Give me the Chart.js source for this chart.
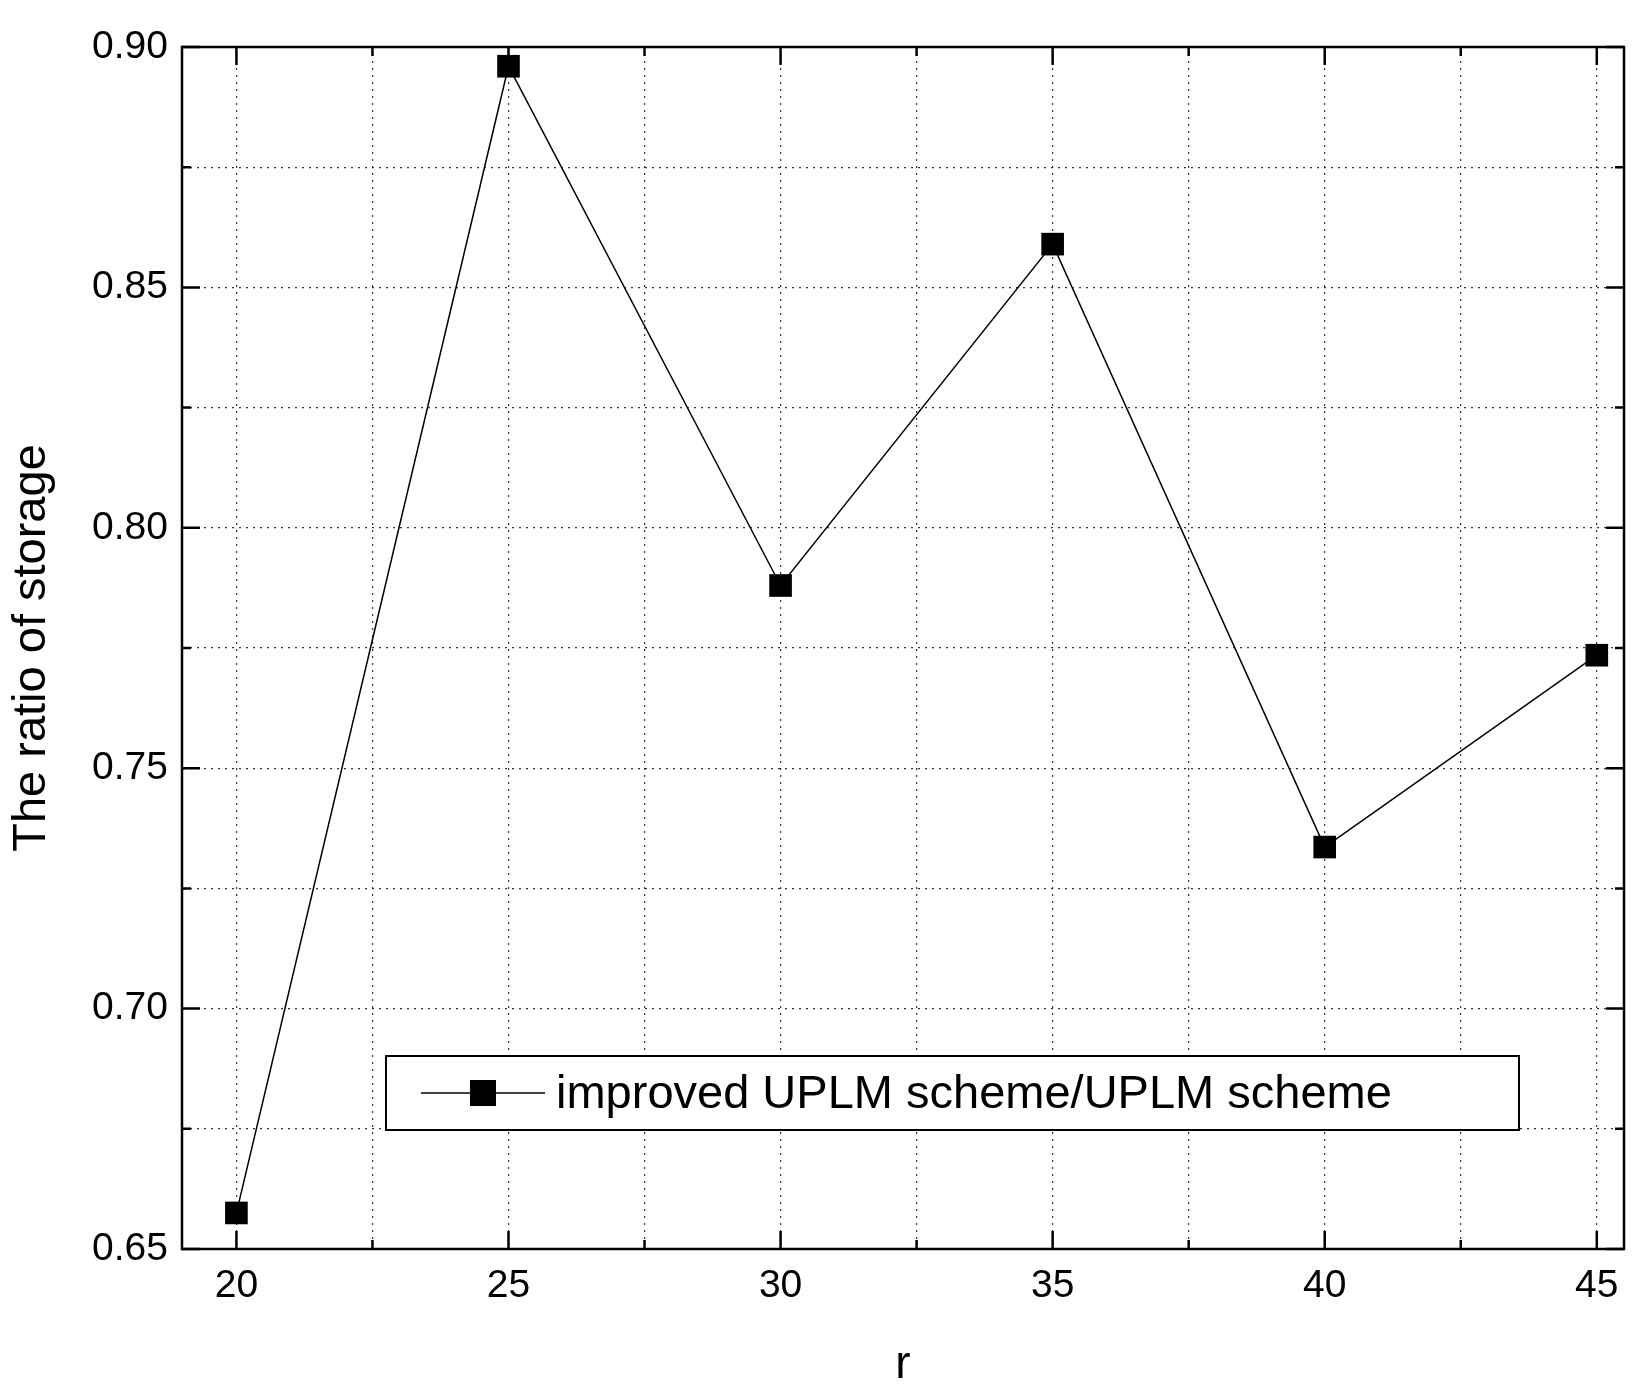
<!DOCTYPE html>
<html><head><meta charset="utf-8">
<script src="https://cdn.jsdelivr.net/npm/chart.js@4"></script>
<style>html,body{margin:0;padding:0;background:#fff}#w{width:1651px;height:1397px}</style>
</head><body><div id="w"><canvas id="c"></canvas></div>
<script>
const rValues = [20, 25, 30, 35, 40, 45];
const ratioValues = [0.6575, 0.896, 0.788, 0.859, 0.7336, 0.7735];
const seriesLabel = 'improved UPLM scheme/UPLM scheme';
const FONT = '"Liberation Sans", Arial, sans-serif';

const ticksPlugin = {
  id: 'inTicks',
  afterDraw(chart) {
    const ctx = chart.ctx, a = chart.chartArea;
    const xs = chart.scales.x, ys = chart.scales.y;
    ctx.save(); ctx.strokeStyle = '#000'; ctx.lineWidth = 2.5;
    ctx.strokeRect(a.left, a.top, a.right - a.left, a.bottom - a.top);
    xs.ticks.forEach(t => {
      const x = xs.getPixelForValue(t.value);
      const L = (Math.abs(t.value % 5) < 1e-6) ? 18 : 9;
      ctx.beginPath(); ctx.moveTo(x, a.bottom); ctx.lineTo(x, a.bottom - L);
      ctx.moveTo(x, a.top); ctx.lineTo(x, a.top + L); ctx.stroke();
    });
    ys.ticks.forEach(t => {
      const y = ys.getPixelForValue(t.value);
      const major = Math.abs(Math.round(t.value * 1000) % 50) < 1;
      const L = major ? 18 : 9;
      ctx.beginPath(); ctx.moveTo(a.left, y); ctx.lineTo(a.left + L, y);
      ctx.moveTo(a.right, y); ctx.lineTo(a.right - L, y); ctx.stroke();
    });
    // legend
    const bx = 386, by = 1056, bw = 1133, bh = 74;
    ctx.fillStyle = '#fff'; ctx.fillRect(bx, by, bw, bh);
    ctx.lineWidth = 2; ctx.strokeRect(bx, by, bw, bh);
    const cy = by + bh / 2;
    ctx.lineWidth = 1.5;
    ctx.beginPath(); ctx.moveTo(421, cy); ctx.lineTo(545, cy); ctx.stroke();
    ctx.fillStyle = '#000'; ctx.fillRect(470, cy - 13, 26, 26);
    ctx.font = '47px ' + FONT; ctx.textBaseline = 'middle';
    ctx.fillText(seriesLabel, 556, cy + 2);
    ctx.restore();
  }
};

new Chart(document.getElementById('c'), {
  type: 'line',
  data: { datasets: [{
    label: seriesLabel,
    data: rValues.map((r, i) => ({ x: r, y: ratioValues[i] })),
    borderColor: '#000', borderWidth: 1.5, backgroundColor: '#000',
    pointStyle: 'rect', pointRadius: 16, pointBorderWidth: 0, tension: 0
  }]},
  options: {
    responsive: true, maintainAspectRatio: false, animation: false,
    layout: { padding: { top: 47, right: 27 } },
    plugins: { legend: { display: false }, tooltip: { enabled: false } },
    scales: {
      x: {
        type: 'linear', min: 19, max: 45.5,
        afterBuildTicks: s => { const t = []; for (let v = 20; v <= 45; v += 2.5) t.push({ value: v }); s.ticks = t; },
        afterFit: s => { s.height = 148; },
        ticks: { color: '#000', font: { size: 39, family: FONT }, padding: 14, maxRotation: 0, autoSkip: false,
          callback: v => (Math.abs(v % 5) < 1e-6 ? String(v) : '') },
        grid: { color: '#333', lineWidth: 1.2, drawTicks: false },
        border: { color: '#000', width: 2, dash: [2, 5] },
        title: { display: true, text: 'r', color: '#000', font: { size: 46, family: FONT }, padding: { top: 2 } }
      },
      y: {
        min: 0.65, max: 0.90,
        afterBuildTicks: s => { const t = []; for (let i = 0; i <= 10; i++) t.push({ value: 0.65 + i * 0.025 }); s.ticks = t; },
        afterFit: s => { s.width = 182; },
        ticks: { color: '#000', font: { size: 39, family: FONT }, padding: 14, autoSkip: false,
          callback: v => (Math.abs(Math.round(v * 1000) % 50) < 1 ? v.toFixed(2) : '') },
        grid: { color: '#333', lineWidth: 1.2, drawTicks: false },
        border: { color: '#000', width: 2, dash: [2, 5] },
        title: { display: true, text: 'The ratio of storage', color: '#000', font: { size: 47, family: FONT }, padding: { bottom: 10 } }
      }
    }
  },
  plugins: [ticksPlugin]
});
</script></body></html>
